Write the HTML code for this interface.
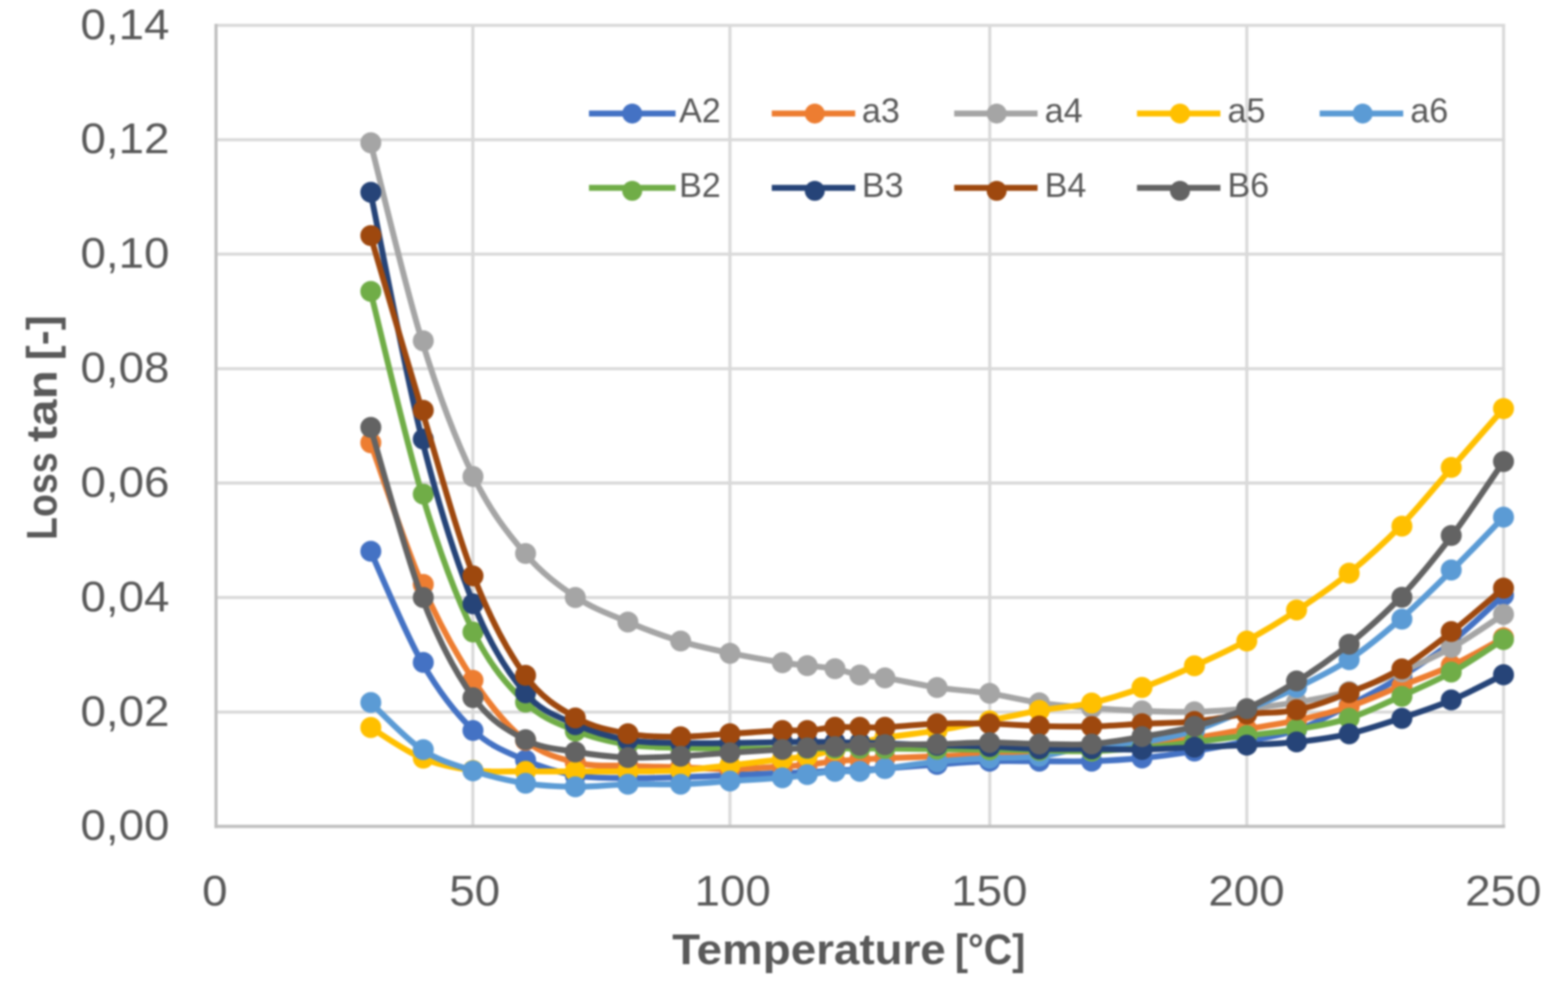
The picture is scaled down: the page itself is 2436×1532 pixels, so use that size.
<!DOCTYPE html>
<html lang="en"><head><meta charset="utf-8"><title>Loss tan vs. Temperature</title>
<style>
html,body{margin:0;padding:0;background:#fff;}
body{width:2436px;height:1532px;overflow:hidden;}
svg{display:block;}
text{font-family:"Liberation Sans",sans-serif;fill:#595959;}
.tk{font-size:67px;}
.ti{font-size:67px;font-weight:bold;}
.lg{font-size:53px;}
.s{fill:none;stroke-width:9.2;stroke-linecap:round;stroke-linejoin:round;}
</style></head><body>
<svg width="2436" height="1532" viewBox="0 0 2436 1532">
<defs><clipPath id="cp"><rect x="0" y="0" width="2352.4" height="1532"/></clipPath><filter id="bl" x="0" y="0" width="2436" height="1532" filterUnits="userSpaceOnUse" color-interpolation-filters="sRGB"><feGaussianBlur stdDeviation="1.7"/></filter></defs>
<rect width="2436" height="1532" fill="#fff"/>
<g filter="url(#bl)">
<rect x="-20" y="-20" width="2476" height="1572" fill="#fff"/>
<g stroke="#D9D9D9" stroke-width="4.8" fill="none">
<line x1="335.6" y1="1106.3" x2="2338.3" y2="1106.3"/>
<line x1="335.6" y1="928.4" x2="2338.3" y2="928.4"/>
<line x1="335.6" y1="750.5" x2="2338.3" y2="750.5"/>
<line x1="335.6" y1="572.9" x2="2338.3" y2="572.9"/>
<line x1="335.6" y1="394.8" x2="2338.3" y2="394.8"/>
<line x1="335.6" y1="217.2" x2="2338.3" y2="217.2"/>
<line x1="335.6" y1="39.4" x2="2338.3" y2="39.4"/>
<line x1="734.6" y1="37" x2="734.6" y2="1284"/>
<line x1="1134" y1="37" x2="1134" y2="1284"/>
<line x1="1537.7" y1="37" x2="1537.7" y2="1284"/>
<line x1="1937" y1="37" x2="1937" y2="1284"/>
<line x1="2335.9" y1="37" x2="2335.9" y2="1284"/>
</g>
<g stroke="#BFBFBF" stroke-width="4.8" fill="none">
<line x1="335.6" y1="37" x2="335.6" y2="1286.4"/>
<line x1="333.2" y1="1284" x2="2338.3" y2="1284"/>
</g>
<g class="tk" text-anchor="end">
<text transform="translate(263.3 1305.2) scale(1.06 1)">0,00</text>
<text transform="translate(263.3 1127.5) scale(1.06 1)">0,02</text>
<text transform="translate(263.3 949.6) scale(1.06 1)">0,04</text>
<text transform="translate(263.3 771.7) scale(1.06 1)">0,06</text>
<text transform="translate(263.3 594.1) scale(1.06 1)">0,08</text>
<text transform="translate(263.3 416) scale(1.06 1)">0,10</text>
<text transform="translate(263.3 238.4) scale(1.06 1)">0,12</text>
<text transform="translate(263.3 60.6) scale(1.06 1)">0,14</text>
</g>
<g class="tk" text-anchor="middle">
<text transform="translate(333.8 1406.5) scale(1.06 1)">0</text>
<text transform="translate(737.5 1406.5) scale(1.06 1)">50</text>
<text transform="translate(1138.3 1406.5) scale(1.06 1)">100</text>
<text transform="translate(1537 1406.5) scale(1.06 1)">150</text>
<text transform="translate(1936.6 1406.5) scale(1.06 1)">200</text>
<text transform="translate(2335.4 1406.5) scale(1.06 1)">250</text>
</g>
<text class="ti" y="1498" aria-label="Temperature [°C]"><tspan x="1044.2" textLength="425.2" lengthAdjust="spacingAndGlyphs">Temperature</tspan><tspan> </tspan><tspan x="1483.5" textLength="109.3" lengthAdjust="spacingAndGlyphs">[°C]</tspan></text>
<text class="ti" transform="rotate(-90)" y="88" aria-label="Loss tan [-]"><tspan x="-838.9" textLength="136" lengthAdjust="spacingAndGlyphs">Loss</tspan><tspan> </tspan><tspan x="-686.7" textLength="111.6" lengthAdjust="spacingAndGlyphs">tan</tspan><tspan> </tspan><tspan x="-559.9" textLength="70.2" lengthAdjust="spacingAndGlyphs">[-]</tspan></text>
<g clip-path="url(#cp)">
<g stroke="#4472C4" fill="#4472C4">
<path class="s" d="M575.6 856.5C589 885.3 629 982.9 655.6 1029.3C682.3 1075.7 709 1109.7 735.7 1135C762.3 1160.3 789 1169.3 815.7 1181C842.3 1192.7 869 1200.3 895.7 1205C922.4 1209.7 949 1208.5 975.7 1209C1002.4 1209.5 1029 1208.5 1055.7 1207.7C1082.4 1206.9 1109 1205.5 1135.7 1204.4C1162.4 1203.3 1195.7 1201.7 1215.7 1201C1235.7 1200.3 1242.4 1200.7 1255.7 1200C1269.1 1199.3 1282.4 1197.7 1295.7 1197C1309.1 1196.3 1322.4 1196.5 1335.8 1196C1349.1 1195.5 1355.8 1195.4 1375.8 1194C1395.8 1192.6 1429.1 1189.7 1455.8 1187.8C1482.4 1185.9 1509.1 1183.6 1535.8 1182.8C1562.5 1182 1589.1 1182.7 1615.8 1182.7C1642.5 1182.7 1669.1 1183.5 1695.8 1182.7C1722.5 1181.9 1749.1 1180.3 1775.8 1177.7C1802.5 1175.1 1829.2 1171.3 1855.8 1167C1882.5 1162.7 1909.2 1157.5 1935.8 1152C1962.5 1146.5 1989.2 1143.3 2015.9 1134C2042.5 1124.7 2069.2 1109.7 2095.9 1096C2122.5 1082.3 2149.2 1068.5 2175.9 1052C2202.5 1035.5 2229.2 1018.2 2255.9 997C2282.6 975.8 2322.6 937 2335.9 925"/>
<g stroke="none"><circle cx="576.1" cy="856.5" r="16.3"/><circle cx="657.6" cy="1029.3" r="16.3"/><circle cx="734.8" cy="1135" r="16.3"/><circle cx="816.5" cy="1181" r="16.3"/><circle cx="893.8" cy="1205" r="16.3"/><circle cx="975.5" cy="1209" r="16.3"/><circle cx="1057.4" cy="1207.7" r="16.3"/><circle cx="1134" cy="1204.4" r="16.3"/><circle cx="1215.5" cy="1201" r="16.3"/><circle cx="1254.1" cy="1200" r="16.3"/><circle cx="1297.2" cy="1197" r="16.3"/><circle cx="1335.8" cy="1196" r="16.3"/><circle cx="1374.8" cy="1194" r="16.3"/><circle cx="1455.8" cy="1187.8" r="16.3"/><circle cx="1537.4" cy="1182.8" r="16.3"/><circle cx="1614.6" cy="1182.7" r="16.3"/><circle cx="1696" cy="1182.7" r="16.3"/><circle cx="1774.2" cy="1177.7" r="16.3"/><circle cx="1855.6" cy="1167" r="16.3"/><circle cx="1937" cy="1152" r="16.3"/><circle cx="2014.3" cy="1134" r="16.3"/><circle cx="2096" cy="1096" r="16.3"/><circle cx="2178" cy="1052" r="16.3"/><circle cx="2254.6" cy="997" r="16.3"/><circle cx="2335.8" cy="925" r="16.3"/></g>
</g>
<g stroke="#ED7D31" fill="#ED7D31">
<path class="s" d="M575.6 688C589 724.7 629 846.5 655.6 908C682.3 969.5 709 1016.6 735.7 1057C762.3 1097.4 789 1129.2 815.7 1150.5C842.3 1171.8 869 1178.4 895.7 1185C922.4 1191.6 949 1188.8 975.7 1190C1002.4 1191.2 1029 1191.2 1055.7 1192C1082.4 1192.8 1109 1195.2 1135.7 1195C1162.4 1194.8 1195.7 1192.2 1215.7 1191C1235.7 1189.8 1242.4 1189.3 1255.7 1188C1269.1 1186.7 1282.4 1184.3 1295.7 1183C1309.1 1181.7 1322.4 1180.8 1335.8 1180C1349.1 1179.2 1355.8 1178.8 1375.8 1178C1395.8 1177.2 1429.1 1176 1455.8 1175C1482.4 1174 1509.1 1173.2 1535.8 1172C1562.5 1170.8 1589.1 1169.5 1615.8 1168C1642.5 1166.5 1669.1 1164.8 1695.8 1163C1722.5 1161.2 1749.1 1160.2 1775.8 1157.5C1802.5 1154.8 1829.2 1151.1 1855.8 1147C1882.5 1142.9 1909.2 1137.7 1935.8 1133C1962.5 1128.3 1989.2 1124.8 2015.9 1119C2042.5 1113.2 2069.2 1106.8 2095.9 1098C2122.5 1089.2 2149.2 1076.7 2175.9 1066C2202.5 1055.3 2229.2 1046.5 2255.9 1034C2282.6 1021.5 2322.6 998.2 2335.9 991"/>
<g stroke="none"><circle cx="576.1" cy="688" r="16.3"/><circle cx="657.6" cy="908" r="16.3"/><circle cx="734.8" cy="1057" r="16.3"/><circle cx="816.5" cy="1150.5" r="16.3"/><circle cx="893.8" cy="1185" r="16.3"/><circle cx="975.5" cy="1190" r="16.3"/><circle cx="1057.4" cy="1192" r="16.3"/><circle cx="1134" cy="1195" r="16.3"/><circle cx="1215.5" cy="1191" r="16.3"/><circle cx="1254.1" cy="1188" r="16.3"/><circle cx="1297.2" cy="1183" r="16.3"/><circle cx="1335.8" cy="1180" r="16.3"/><circle cx="1374.8" cy="1178" r="16.3"/><circle cx="1455.8" cy="1175" r="16.3"/><circle cx="1537.4" cy="1172" r="16.3"/><circle cx="1614.6" cy="1168" r="16.3"/><circle cx="1696" cy="1163" r="16.3"/><circle cx="1774.2" cy="1157.5" r="16.3"/><circle cx="1855.6" cy="1147" r="16.3"/><circle cx="1937" cy="1133" r="16.3"/><circle cx="2014.3" cy="1119" r="16.3"/><circle cx="2096" cy="1098" r="16.3"/><circle cx="2178" cy="1066" r="16.3"/><circle cx="2254.6" cy="1034" r="16.3"/><circle cx="2335.8" cy="991" r="16.3"/></g>
</g>
<g stroke="#A5A5A5" fill="#A5A5A5">
<path class="s" d="M575.6 221.9C589 273.2 629 443.2 655.6 529.6C682.3 616 709 685.3 735.7 740.4C762.3 795.5 789 828.7 815.7 860C842.3 891.3 869 910.6 895.7 928.4C922.4 946.1 949 955.2 975.7 966.5C1002.4 977.8 1029 987.9 1055.7 996C1082.4 1004.1 1109 1009.5 1135.7 1015.1C1162.4 1020.7 1195.7 1026.4 1215.7 1029.6C1235.7 1032.8 1242.4 1032.6 1255.7 1034.2C1269.1 1035.8 1282.4 1036.6 1295.7 1039C1309.1 1041.4 1322.4 1046.3 1335.8 1048.7C1349.1 1051.1 1355.8 1050 1375.8 1053.3C1395.8 1056.5 1429.1 1064.2 1455.8 1068.2C1482.4 1072.2 1509.1 1073.3 1535.8 1077.3C1562.5 1081.3 1589.1 1088.2 1615.8 1092C1642.5 1095.8 1669.1 1097.9 1695.8 1100C1722.5 1102.1 1749.1 1103.6 1775.8 1104.6C1802.5 1105.6 1829.2 1106.6 1855.8 1106C1882.5 1105.4 1909.2 1103.5 1935.8 1101C1962.5 1098.5 1989.2 1095.4 2015.9 1091C2042.5 1086.6 2069.2 1082.3 2095.9 1074.5C2122.5 1066.7 2149.2 1055.4 2175.9 1044C2202.5 1032.6 2229.2 1020.9 2255.9 1006C2282.6 991.1 2322.6 963.2 2335.9 954.6"/>
<g stroke="none"><circle cx="576.1" cy="221.9" r="16.3"/><circle cx="657.6" cy="529.6" r="16.3"/><circle cx="734.8" cy="740.4" r="16.3"/><circle cx="816.5" cy="860" r="16.3"/><circle cx="893.8" cy="928.4" r="16.3"/><circle cx="975.5" cy="966.5" r="16.3"/><circle cx="1057.4" cy="996" r="16.3"/><circle cx="1134" cy="1015.1" r="16.3"/><circle cx="1215.5" cy="1029.6" r="16.3"/><circle cx="1254.1" cy="1034.2" r="16.3"/><circle cx="1297.2" cy="1039" r="16.3"/><circle cx="1335.8" cy="1048.7" r="16.3"/><circle cx="1374.8" cy="1053.3" r="16.3"/><circle cx="1455.8" cy="1068.2" r="16.3"/><circle cx="1537.4" cy="1077.3" r="16.3"/><circle cx="1614.6" cy="1092" r="16.3"/><circle cx="1696" cy="1100" r="16.3"/><circle cx="1774.2" cy="1104.6" r="16.3"/><circle cx="1855.6" cy="1106" r="16.3"/><circle cx="1937" cy="1101" r="16.3"/><circle cx="2014.3" cy="1091" r="16.3"/><circle cx="2096" cy="1074.5" r="16.3"/><circle cx="2178" cy="1044" r="16.3"/><circle cx="2254.6" cy="1006" r="16.3"/><circle cx="2335.8" cy="954.6" r="16.3"/></g>
</g>
<g stroke="#FFC000" fill="#FFC000">
<path class="s" d="M575.6 1130.4C589 1138.3 629 1166.9 655.6 1178C682.3 1189.1 709 1193.6 735.7 1197C762.3 1200.4 789 1198.2 815.7 1198.5C842.3 1198.8 869 1198.5 895.7 1198.5C922.4 1198.5 949 1198.8 975.7 1198.5C1002.4 1198.2 1029 1198.6 1055.7 1197C1082.4 1195.4 1109 1191.9 1135.7 1189C1162.4 1186.1 1195.7 1181.8 1215.7 1179.5C1235.7 1177.2 1242.4 1177.4 1255.7 1175C1269.1 1172.6 1282.4 1168.5 1295.7 1165C1309.1 1161.5 1322.4 1157.2 1335.8 1154C1349.1 1150.8 1355.8 1149.2 1375.8 1146C1395.8 1142.8 1429.1 1139.3 1455.8 1135C1482.4 1130.7 1509.1 1125.2 1535.8 1120C1562.5 1114.8 1589.1 1108.4 1615.8 1103.8C1642.5 1099.2 1669.1 1098.2 1695.8 1092.2C1722.5 1086.2 1749.1 1077.7 1775.8 1068.1C1802.5 1058.5 1829.2 1046.5 1855.8 1034.5C1882.5 1022.5 1909.2 1010.5 1935.8 996C1962.5 981.5 1989.2 965.4 2015.9 947.8C2042.5 930.2 2069.2 912.2 2095.9 890.5C2122.5 868.8 2149.2 844.9 2175.9 817.5C2202.5 790.1 2229.2 756.6 2255.9 726.2C2282.6 695.8 2322.6 650.1 2335.9 634.9"/>
<g stroke="none"><circle cx="576.1" cy="1130.4" r="16.3"/><circle cx="657.6" cy="1178" r="16.3"/><circle cx="734.8" cy="1197" r="16.3"/><circle cx="816.5" cy="1198.5" r="16.3"/><circle cx="893.8" cy="1198.5" r="16.3"/><circle cx="975.5" cy="1198.5" r="16.3"/><circle cx="1057.4" cy="1197" r="16.3"/><circle cx="1134" cy="1189" r="16.3"/><circle cx="1215.5" cy="1179.5" r="16.3"/><circle cx="1254.1" cy="1175" r="16.3"/><circle cx="1297.2" cy="1165" r="16.3"/><circle cx="1335.8" cy="1154" r="16.3"/><circle cx="1374.8" cy="1146" r="16.3"/><circle cx="1455.8" cy="1135" r="16.3"/><circle cx="1537.4" cy="1120" r="16.3"/><circle cx="1614.6" cy="1103.8" r="16.3"/><circle cx="1696" cy="1092.2" r="16.3"/><circle cx="1774.2" cy="1068.1" r="16.3"/><circle cx="1855.6" cy="1034.5" r="16.3"/><circle cx="1937" cy="996" r="16.3"/><circle cx="2014.3" cy="947.8" r="16.3"/><circle cx="2096" cy="890.5" r="16.3"/><circle cx="2178" cy="817.5" r="16.3"/><circle cx="2254.6" cy="726.2" r="16.3"/><circle cx="2335.8" cy="634.9" r="16.3"/></g>
</g>
<g stroke="#5B9BD5" fill="#5B9BD5">
<path class="s" d="M575.6 1091.5C589 1103.7 629 1147.1 655.6 1164.8C682.3 1182.5 709 1189.1 735.7 1197.8C762.3 1206.5 789 1212.9 815.7 1217C842.3 1221.1 869 1222.2 895.7 1222.5C922.4 1222.8 949 1219.2 975.7 1218.5C1002.4 1217.8 1029 1219.3 1055.7 1218.5C1082.4 1217.7 1109 1215.2 1135.7 1213.5C1162.4 1211.8 1195.7 1210.2 1215.7 1208.5C1235.7 1206.8 1242.4 1205.2 1255.7 1203.5C1269.1 1201.8 1282.4 1199.3 1295.7 1198.5C1309.1 1197.7 1322.4 1199.2 1335.8 1198.5C1349.1 1197.8 1355.8 1196.5 1375.8 1194C1395.8 1191.5 1429.1 1186.2 1455.8 1183.5C1482.4 1180.8 1509.1 1179.4 1535.8 1178C1562.5 1176.6 1589.1 1178.2 1615.8 1175C1642.5 1171.8 1669.1 1162.7 1695.8 1159C1722.5 1155.3 1749.1 1157 1775.8 1153C1802.5 1149 1829.2 1143.3 1855.8 1135C1882.5 1126.7 1909.2 1114.2 1935.8 1103C1962.5 1091.8 1989.2 1081 2015.9 1068C2042.5 1055 2069.2 1042.7 2095.9 1025C2122.5 1007.3 2149.2 985.2 2175.9 962C2202.5 938.8 2229.2 912 2255.9 885.6C2282.6 859.2 2322.6 817.2 2335.9 803.5"/>
<g stroke="none"><circle cx="576.1" cy="1091.5" r="16.3"/><circle cx="657.6" cy="1164.8" r="16.3"/><circle cx="734.8" cy="1197.8" r="16.3"/><circle cx="816.5" cy="1217" r="16.3"/><circle cx="893.8" cy="1222.5" r="16.3"/><circle cx="975.5" cy="1218.5" r="16.3"/><circle cx="1057.4" cy="1218.5" r="16.3"/><circle cx="1134" cy="1213.5" r="16.3"/><circle cx="1215.5" cy="1208.5" r="16.3"/><circle cx="1254.1" cy="1203.5" r="16.3"/><circle cx="1297.2" cy="1198.5" r="16.3"/><circle cx="1335.8" cy="1198.5" r="16.3"/><circle cx="1374.8" cy="1194" r="16.3"/><circle cx="1455.8" cy="1183.5" r="16.3"/><circle cx="1537.4" cy="1178" r="16.3"/><circle cx="1614.6" cy="1175" r="16.3"/><circle cx="1696" cy="1159" r="16.3"/><circle cx="1774.2" cy="1153" r="16.3"/><circle cx="1855.6" cy="1135" r="16.3"/><circle cx="1937" cy="1103" r="16.3"/><circle cx="2014.3" cy="1068" r="16.3"/><circle cx="2096" cy="1025" r="16.3"/><circle cx="2178" cy="962" r="16.3"/><circle cx="2254.6" cy="885.6" r="16.3"/><circle cx="2335.8" cy="803.5" r="16.3"/></g>
</g>
<g stroke="#70AD47" fill="#70AD47">
<path class="s" d="M575.6 452.8C589 505.3 629 679.6 655.6 767.8C682.3 856 709 928.1 735.7 982C762.3 1035.9 789 1065.3 815.7 1091C842.3 1116.7 869 1125 895.7 1136C922.4 1147 949 1152.7 975.7 1157C1002.4 1161.3 1029 1161 1055.7 1162C1082.4 1163 1109 1162.8 1135.7 1163C1162.4 1163.2 1195.7 1163 1215.7 1163C1235.7 1163 1242.4 1163 1255.7 1163C1269.1 1163 1282.4 1163 1295.7 1163C1309.1 1163 1322.4 1163 1335.8 1163C1349.1 1163 1355.8 1162.8 1375.8 1163C1395.8 1163.2 1429.1 1163.7 1455.8 1164C1482.4 1164.3 1509.1 1164.7 1535.8 1165C1562.5 1165.3 1589.1 1165.7 1615.8 1166C1642.5 1166.3 1669.1 1167.7 1695.8 1167C1722.5 1166.3 1749.1 1164.3 1775.8 1162C1802.5 1159.7 1829.2 1156.2 1855.8 1153C1882.5 1149.8 1909.2 1146.3 1935.8 1143C1962.5 1139.7 1989.2 1137.5 2015.9 1133C2042.5 1128.5 2069.2 1124.5 2095.9 1116C2122.5 1107.5 2149.2 1094 2175.9 1082C2202.5 1070 2229.2 1059 2255.9 1044.3C2282.6 1029.6 2322.6 1002 2335.9 993.6"/>
<g stroke="none"><circle cx="576.1" cy="452.8" r="16.3"/><circle cx="657.6" cy="767.8" r="16.3"/><circle cx="734.8" cy="982" r="16.3"/><circle cx="816.5" cy="1091" r="16.3"/><circle cx="893.8" cy="1136" r="16.3"/><circle cx="975.5" cy="1157" r="16.3"/><circle cx="1057.4" cy="1162" r="16.3"/><circle cx="1134" cy="1163" r="16.3"/><circle cx="1215.5" cy="1163" r="16.3"/><circle cx="1254.1" cy="1163" r="16.3"/><circle cx="1297.2" cy="1163" r="16.3"/><circle cx="1335.8" cy="1163" r="16.3"/><circle cx="1374.8" cy="1163" r="16.3"/><circle cx="1455.8" cy="1164" r="16.3"/><circle cx="1537.4" cy="1165" r="16.3"/><circle cx="1614.6" cy="1166" r="16.3"/><circle cx="1696" cy="1167" r="16.3"/><circle cx="1774.2" cy="1162" r="16.3"/><circle cx="1855.6" cy="1153" r="16.3"/><circle cx="1937" cy="1143" r="16.3"/><circle cx="2014.3" cy="1133" r="16.3"/><circle cx="2096" cy="1116" r="16.3"/><circle cx="2178" cy="1082" r="16.3"/><circle cx="2254.6" cy="1044.3" r="16.3"/><circle cx="2335.8" cy="993.6" r="16.3"/></g>
</g>
<g stroke="#264478" fill="#264478">
<path class="s" d="M575.6 298.8C589 362.7 629 575.7 655.6 682.3C682.3 788.9 709 872.5 735.7 938.2C762.3 1003.9 789 1045.1 815.7 1076.4C842.3 1107.7 869 1113.7 895.7 1126C922.4 1138.3 949 1145.2 975.7 1150C1002.4 1154.8 1029 1153.8 1055.7 1154.5C1082.4 1155.2 1109 1154.8 1135.7 1154.5C1162.4 1154.2 1195.7 1153.2 1215.7 1153C1235.7 1152.8 1242.4 1153 1255.7 1153C1269.1 1153 1282.4 1152.8 1295.7 1153C1309.1 1153.2 1322.4 1153.7 1335.8 1154C1349.1 1154.3 1355.8 1154.3 1375.8 1155C1395.8 1155.7 1429.1 1157.2 1455.8 1158C1482.4 1158.8 1509.1 1159.1 1535.8 1160C1562.5 1160.9 1589.1 1163 1615.8 1163.6C1642.5 1164.2 1669.1 1163.4 1695.8 1163.6C1722.5 1163.8 1749.1 1164.9 1775.8 1164.5C1802.5 1164.1 1829.2 1162.1 1855.8 1161C1882.5 1159.9 1909.2 1159.1 1935.8 1157.7C1962.5 1156.3 1989.2 1155.6 2015.9 1152.7C2042.5 1149.8 2069.2 1146.3 2095.9 1140.2C2122.5 1134.1 2149.2 1124.9 2175.9 1116.1C2202.5 1107.3 2229.2 1098.8 2255.9 1087.5C2282.6 1076.2 2322.6 1054.9 2335.9 1048.4"/>
<g stroke="none"><circle cx="576.1" cy="298.8" r="16.3"/><circle cx="657.6" cy="682.3" r="16.3"/><circle cx="734.8" cy="938.2" r="16.3"/><circle cx="816.5" cy="1076.4" r="16.3"/><circle cx="893.8" cy="1126" r="16.3"/><circle cx="975.5" cy="1150" r="16.3"/><circle cx="1057.4" cy="1154.5" r="16.3"/><circle cx="1134" cy="1154.5" r="16.3"/><circle cx="1215.5" cy="1153" r="16.3"/><circle cx="1254.1" cy="1153" r="16.3"/><circle cx="1297.2" cy="1153" r="16.3"/><circle cx="1335.8" cy="1154" r="16.3"/><circle cx="1374.8" cy="1155" r="16.3"/><circle cx="1455.8" cy="1158" r="16.3"/><circle cx="1537.4" cy="1160" r="16.3"/><circle cx="1614.6" cy="1163.6" r="16.3"/><circle cx="1696" cy="1163.6" r="16.3"/><circle cx="1774.2" cy="1164.5" r="16.3"/><circle cx="1855.6" cy="1161" r="16.3"/><circle cx="1937" cy="1157.7" r="16.3"/><circle cx="2014.3" cy="1152.7" r="16.3"/><circle cx="2096" cy="1140.2" r="16.3"/><circle cx="2178" cy="1116.1" r="16.3"/><circle cx="2254.6" cy="1087.5" r="16.3"/><circle cx="2335.8" cy="1048.4" r="16.3"/></g>
</g>
<g stroke="#9E480E" fill="#9E480E">
<path class="s" d="M575.6 366C589 411.2 629 549.4 655.6 637.5C682.3 725.6 709 826.2 735.7 894.8C762.3 963.4 789 1012.5 815.7 1049.3C842.3 1086.1 869 1100.4 895.7 1115.5C922.4 1130.6 949 1135.1 975.7 1140C1002.4 1144.9 1029 1144.8 1055.7 1144.8C1082.4 1144.8 1109 1141.6 1135.7 1140C1162.4 1138.4 1195.7 1135.8 1215.7 1135C1235.7 1134.2 1242.4 1135.8 1255.7 1135C1269.1 1134.2 1282.4 1130.8 1295.7 1130C1309.1 1129.2 1322.4 1130 1335.8 1130C1349.1 1130 1355.8 1130.9 1375.8 1130C1395.8 1129.1 1429.1 1125.4 1455.8 1124.5C1482.4 1123.6 1509.1 1123.9 1535.8 1124.5C1562.5 1125.1 1589.1 1127.3 1615.8 1128C1642.5 1128.7 1669.1 1129.3 1695.8 1128.7C1722.5 1128.1 1749.1 1125.9 1775.8 1124.6C1802.5 1123.3 1829.2 1123.5 1855.8 1121C1882.5 1118.5 1909.2 1112.5 1935.8 1109.5C1962.5 1106.5 1989.2 1108.4 2015.9 1102.9C2042.5 1097.4 2069.2 1086.9 2095.9 1076.3C2122.5 1065.7 2149.2 1055.1 2175.9 1039.3C2202.5 1023.4 2229.2 1002.1 2255.9 981.2C2282.6 960.3 2322.6 925.1 2335.9 913.9"/>
<g stroke="none"><circle cx="576.1" cy="366" r="16.3"/><circle cx="657.6" cy="637.5" r="16.3"/><circle cx="734.8" cy="894.8" r="16.3"/><circle cx="816.5" cy="1049.3" r="16.3"/><circle cx="893.8" cy="1115.5" r="16.3"/><circle cx="975.5" cy="1140" r="16.3"/><circle cx="1057.4" cy="1144.8" r="16.3"/><circle cx="1134" cy="1140" r="16.3"/><circle cx="1215.5" cy="1135" r="16.3"/><circle cx="1254.1" cy="1135" r="16.3"/><circle cx="1297.2" cy="1130" r="16.3"/><circle cx="1335.8" cy="1130" r="16.3"/><circle cx="1374.8" cy="1130" r="16.3"/><circle cx="1455.8" cy="1124.5" r="16.3"/><circle cx="1537.4" cy="1124.5" r="16.3"/><circle cx="1614.6" cy="1128" r="16.3"/><circle cx="1696" cy="1128.7" r="16.3"/><circle cx="1774.2" cy="1124.6" r="16.3"/><circle cx="1855.6" cy="1121" r="16.3"/><circle cx="1937" cy="1109.5" r="16.3"/><circle cx="2014.3" cy="1102.9" r="16.3"/><circle cx="2096" cy="1076.3" r="16.3"/><circle cx="2178" cy="1039.3" r="16.3"/><circle cx="2254.6" cy="981.2" r="16.3"/><circle cx="2335.8" cy="913.9" r="16.3"/></g>
</g>
<g stroke="#636363" fill="#636363">
<path class="s" d="M575.6 664C589 708.1 629 858.4 655.6 928.4C682.3 998.4 709 1047.2 735.7 1084C762.3 1120.8 789 1135.1 815.7 1149.2C842.3 1163.3 869 1163.8 895.7 1168.4C922.4 1173 949 1175.9 975.7 1177C1002.4 1178.1 1029 1176.2 1055.7 1175C1082.4 1173.8 1109 1171.2 1135.7 1169.5C1162.4 1167.8 1195.7 1165.8 1215.7 1164.5C1235.7 1163.2 1242.4 1162.8 1255.7 1162C1269.1 1161.2 1282.4 1160.7 1295.7 1160C1309.1 1159.3 1322.4 1158.5 1335.8 1158C1349.1 1157.5 1355.8 1157.3 1375.8 1157C1395.8 1156.7 1429.1 1156.8 1455.8 1156.2C1482.4 1155.7 1509.1 1153.7 1535.8 1153.7C1562.5 1153.7 1589.1 1155.6 1615.8 1156C1642.5 1156.4 1669.1 1157.9 1695.8 1156C1722.5 1154.1 1749.1 1149.1 1775.8 1144.5C1802.5 1139.9 1829.2 1135.8 1855.8 1128.6C1882.5 1121.4 1909.2 1113 1935.8 1101.2C1962.5 1089.4 1989.2 1074.7 2015.9 1058C2042.5 1041.3 2069.2 1022.7 2095.9 1001C2122.5 979.3 2149.2 956.2 2175.9 928C2202.5 899.8 2229.2 867.1 2255.9 832C2282.6 796.9 2322.6 736.2 2335.9 717.1"/>
<g stroke="none"><circle cx="576.1" cy="664" r="16.3"/><circle cx="657.6" cy="928.4" r="16.3"/><circle cx="734.8" cy="1084" r="16.3"/><circle cx="816.5" cy="1149.2" r="16.3"/><circle cx="893.8" cy="1168.4" r="16.3"/><circle cx="975.5" cy="1177" r="16.3"/><circle cx="1057.4" cy="1175" r="16.3"/><circle cx="1134" cy="1169.5" r="16.3"/><circle cx="1215.5" cy="1164.5" r="16.3"/><circle cx="1254.1" cy="1162" r="16.3"/><circle cx="1297.2" cy="1160" r="16.3"/><circle cx="1335.8" cy="1158" r="16.3"/><circle cx="1374.8" cy="1157" r="16.3"/><circle cx="1455.8" cy="1156.2" r="16.3"/><circle cx="1537.4" cy="1153.7" r="16.3"/><circle cx="1614.6" cy="1156" r="16.3"/><circle cx="1696" cy="1156" r="16.3"/><circle cx="1774.2" cy="1144.5" r="16.3"/><circle cx="1855.6" cy="1128.6" r="16.3"/><circle cx="1937" cy="1101.2" r="16.3"/><circle cx="2014.3" cy="1058" r="16.3"/><circle cx="2096" cy="1001" r="16.3"/><circle cx="2178" cy="928" r="16.3"/><circle cx="2254.6" cy="832" r="16.3"/><circle cx="2335.8" cy="717.1" r="16.3"/></g>
</g>
</g>
<g>
<line x1="915" y1="176.4" x2="1049.5" y2="176.4" stroke="#4472C4" stroke-width="9.2"/>
<circle cx="982.2" cy="176.4" r="15.5" fill="#4472C4"/>
<text class="lg" x="1055" y="190.3">A2</text>
<line x1="1199" y1="176.4" x2="1328.6" y2="176.4" stroke="#ED7D31" stroke-width="9.2"/>
<circle cx="1265.8" cy="176.4" r="15.5" fill="#ED7D31"/>
<text class="lg" x="1339" y="190.3">a3</text>
<line x1="1482.4" y1="176.4" x2="1611.9" y2="176.4" stroke="#A5A5A5" stroke-width="9.2"/>
<circle cx="1548.4" cy="176.4" r="15.5" fill="#A5A5A5"/>
<text class="lg" x="1623" y="190.3">a4</text>
<line x1="1766.4" y1="176.4" x2="1896" y2="176.4" stroke="#FFC000" stroke-width="9.2"/>
<circle cx="1833.2" cy="176.4" r="15.5" fill="#FFC000"/>
<text class="lg" x="1907" y="190.3">a5</text>
<line x1="2050.2" y1="176.4" x2="2180" y2="176.4" stroke="#5B9BD5" stroke-width="9.2"/>
<circle cx="2117" cy="176.4" r="15.5" fill="#5B9BD5"/>
<text class="lg" x="2191" y="190.3">a6</text>
<line x1="915" y1="291.9" x2="1049.5" y2="291.9" stroke="#70AD47" stroke-width="9.2"/>
<circle cx="982.2" cy="296.5" r="15.5" fill="#70AD47"/>
<text class="lg" x="1055" y="305.9">B2</text>
<line x1="1199" y1="291.9" x2="1328.6" y2="291.9" stroke="#264478" stroke-width="9.2"/>
<circle cx="1265.8" cy="296.5" r="15.5" fill="#264478"/>
<text class="lg" x="1339" y="305.9">B3</text>
<line x1="1482.4" y1="291.9" x2="1611.9" y2="291.9" stroke="#9E480E" stroke-width="9.2"/>
<circle cx="1548.4" cy="296.5" r="15.5" fill="#9E480E"/>
<text class="lg" x="1623" y="305.9">B4</text>
<line x1="1766.4" y1="291.9" x2="1896" y2="291.9" stroke="#636363" stroke-width="9.2"/>
<circle cx="1833.2" cy="296.5" r="15.5" fill="#636363"/>
<text class="lg" x="1907" y="305.9">B6</text>
</g>
</g>
</svg>
</body></html>
